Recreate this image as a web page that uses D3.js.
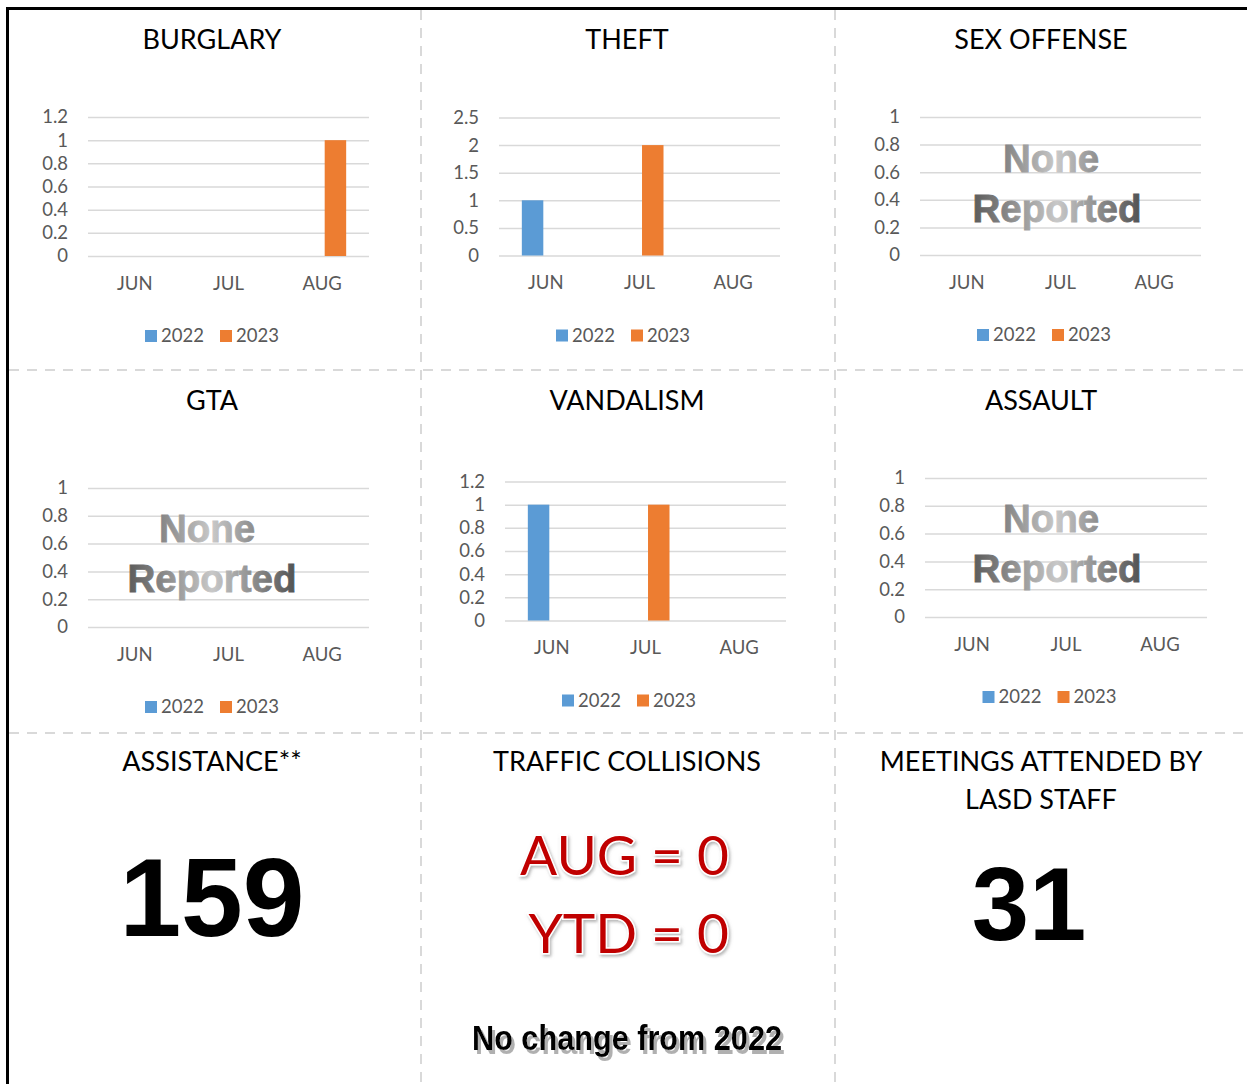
<!DOCTYPE html>
<html>
<head>
<meta charset="utf-8">
<script src="https://cdn.jsdelivr.net/npm/d3@7"></script>
<style>
  body { margin: 0; background: #fff; }
  svg { display: block; }
  .axis text { font-family: Lato, sans-serif; font-size: 18.5px; fill: #595959; }
  .legend text { font-family: Lato, sans-serif; font-size: 18.5px; fill: #595959; }
  .title { font-family: Lato, sans-serif; font-size: 27px; fill: #000; }
</style>
</head>
<body>
<div id="chart"></div>
<script>
// monthly counts, 2022 vs 2023
const months = ["JUN", "JUL", "AUG"];
const years = ["2022", "2023"];

const burglary2022 = [0, 0, 0];
const burglary2023 = [0, 0, 1];
const theft2022 = [1, 0, 0];
const theft2023 = [0, 2, 0];
const sexOffense2022 = [0, 0, 0];
const sexOffense2023 = [0, 0, 0];
const gta2022 = [0, 0, 0];
const gta2023 = [0, 0, 0];
const vandalism2022 = [1, 0, 0];
const vandalism2023 = [0, 1, 0];
const assault2022 = [0, 0, 0];
const assault2023 = [0, 0, 0];

const ticks12 = [0, 0.2, 0.4, 0.6, 0.8, 1, 1.2];
const ticks25 = [0, 0.5, 1, 1.5, 2, 2.5];
const ticks1 = [0, 0.2, 0.4, 0.6, 0.8, 1];

const assistanceCount = 159;
const meetingsCount = 31;
const collisionsMonth = 0;
const collisionsYtd = 0;

const colors = { "2022": "#5b9bd5", "2023": "#ed7d31" };

const width = 1247;
const height = 1084;

const svg = d3.select("#chart")
  .append("svg")
  .attr("width", width)
  .attr("height", height);

const defs = svg.append("defs");

const glow = defs.append("filter").attr("id", "redShadow")
  .attr("x", "-10%").attr("y", "-20%").attr("width", "130%").attr("height", "150%");
glow.append("feDropShadow")
  .attr("dx", 1.5).attr("dy", 2).attr("stdDeviation", 1.5)
  .attr("flood-color", "#777").attr("flood-opacity", 0.55);

const grayShadow = defs.append("filter").attr("id", "grayShadow")
  .attr("x", "-5%").attr("y", "-20%").attr("width", "115%").attr("height", "150%");
grayShadow.append("feDropShadow")
  .attr("dx", 3).attr("dy", 4).attr("stdDeviation", 0.4)
  .attr("flood-color", "#b0b0b0").attr("flood-opacity", 1);

// panel frame
svg.append("line")
  .attr("x1", 6).attr("x2", width).attr("y1", 8.5).attr("y2", 8.5)
  .attr("stroke", "#000").attr("stroke-width", 3);
svg.append("line")
  .attr("x1", 7.5).attr("x2", 7.5).attr("y1", 7).attr("y2", height)
  .attr("stroke", "#000").attr("stroke-width", 3);

[421, 835].forEach(x => {
  svg.append("line")
    .attr("x1", x).attr("x2", x).attr("y1", 10).attr("y2", height)
    .attr("stroke", "#d9d9d9").attr("stroke-width", 2).attr("stroke-dasharray", "10,8");
});
[370, 733].forEach(y => {
  svg.append("line")
    .attr("x1", 9).attr("x2", width).attr("y1", y).attr("y2", y)
    .attr("stroke", "#d9d9d9").attr("stroke-width", 2).attr("stroke-dasharray", "10,8");
});

const charts = [
  { title: "BURGLARY", a: burglary2022, b: burglary2023, ticks: ticks12, cx: 212, titleY: 49,
    left: 88, right: 369, top: 117, bottom: 256 },
  { title: "THEFT", a: theft2022, b: theft2023, ticks: ticks25, cx: 627, titleY: 49,
    left: 499, right: 780, top: 117.5, bottom: 255.5 },
  { title: "SEX OFFENSE", a: sexOffense2022, b: sexOffense2023, ticks: ticks1, cx: 1041, titleY: 49,
    left: 920, right: 1201, top: 117, bottom: 255,
    none: { x1: 1051, y1: 172, x2: 1057, y2: 222 } },
  { title: "GTA", a: gta2022, b: gta2023, ticks: ticks1, cx: 212, titleY: 410,
    left: 88, right: 369, top: 488, bottom: 627,
    none: { x1: 207, y1: 542, x2: 212, y2: 592 } },
  { title: "VANDALISM", a: vandalism2022, b: vandalism2023, ticks: ticks12, cx: 627, titleY: 410,
    left: 505, right: 786, top: 481.5, bottom: 620.5 },
  { title: "ASSAULT", a: assault2022, b: assault2023, ticks: ticks1, cx: 1041, titleY: 410,
    left: 925, right: 1207, top: 478, bottom: 617,
    none: { x1: 1051, y1: 532, x2: 1057, y2: 582 } }
];

function barChart(c, idx) {
  const g = svg.append("g");

  g.append("text")
    .attr("class", "title")
    .attr("x", c.cx)
    .attr("y", c.titleY)
    .attr("text-anchor", "middle")
    .text(c.title);

  const x0 = d3.scaleBand()
    .domain(months)
    .range([c.left, c.right])
    .paddingInner(0.4875)
    .paddingOuter(0.24375);

  const x1 = d3.scaleBand()
    .domain(years)
    .range([0, x0.bandwidth()])
    .paddingInner(0.19);

  const yScale = d3.scaleLinear()
    .domain([0, d3.max(c.ticks)])
    .range([c.bottom, c.top]);

  const yAxis = d3.axisLeft(yScale)
    .tickValues(c.ticks)
    .tickFormat(d => String(d))
    .tickSize(-(c.right - c.left))
    .tickPadding(20);

  const yg = g.append("g")
    .attr("class", "axis y-axis")
    .attr("transform", `translate(${c.left}, 0)`)
    .call(yAxis);
  yg.select(".domain").remove();
  yg.selectAll("line").attr("stroke", "#d9d9d9").attr("stroke-width", 1.5);

  const xAxis = d3.axisBottom(x0)
    .tickSize(0)
    .tickPadding(20.5);

  const xg = g.append("g")
    .attr("class", "axis x-axis")
    .attr("transform", `translate(0, ${c.bottom})`)
    .call(xAxis);
  xg.select(".domain").remove();

  const rows = months.map((m, i) => ({ month: m, values: [
    { year: "2022", value: c.a[i] },
    { year: "2023", value: c.b[i] }
  ] }));

  g.selectAll(".month")
    .data(rows)
    .enter().append("g")
    .attr("class", "month")
    .attr("transform", d => `translate(${x0(d.month)}, 0)`)
    .selectAll("rect")
    .data(d => d.values.filter(v => v.value > 0))
    .enter().append("rect")
    .attr("x", d => x1(d.year))
    .attr("y", d => yScale(d.value))
    .attr("width", x1.bandwidth())
    .attr("height", d => yScale(0) - yScale(d.value))
    .attr("fill", d => colors[d.year]);

  // legend
  const legendX = (c.left + c.right) / 2 - 83.5;
  const legend = g.append("g")
    .attr("class", "legend")
    .attr("transform", `translate(${legendX}, ${c.bottom + 80})`);

  const item = legend.selectAll(".item")
    .data(years)
    .enter().append("g")
    .attr("class", "item")
    .attr("transform", (d, i) => `translate(${i * 75}, 0)`);

  item.append("rect")
    .attr("x", 0).attr("y", -6)
    .attr("width", 12).attr("height", 12)
    .attr("fill", d => colors[d]);

  item.append("text")
    .attr("x", 16)
    .attr("y", 0)
    .attr("dy", "0.35em")
    .text(d => d);

  if (c.none) {
    const gradId = "noneGrad" + idx;
    const grad = defs.append("linearGradient")
      .attr("id", gradId)
      .attr("gradientUnits", "userSpaceOnUse")
      .attr("x1", c.none.x2 - 85).attr("x2", c.none.x2 + 85)
      .attr("y1", 0).attr("y2", 0);
    grad.append("stop").attr("offset", 0).attr("stop-color", "#5a5a5a");
    grad.append("stop").attr("offset", 0.5).attr("stop-color", "#c8c8c8");
    grad.append("stop").attr("offset", 1).attr("stop-color", "#505050");

    const note = g.append("g")
      .style("font-family", "'Liberation Sans', Arial, sans-serif")
      .style("font-weight", "bold")
      .style("font-size", "38.5px")
      .attr("fill", `url(#${gradId})`)
      .attr("stroke", `url(#${gradId})`)
      .attr("stroke-width", 0.8)
      .attr("text-anchor", "middle");
    note.append("text").attr("x", c.none.x1).attr("y", c.none.y1).text("None");
    note.append("text").attr("x", c.none.x2).attr("y", c.none.y2).text("Reported");
  }
}

charts.forEach(barChart);

// bottom row
const bottomTitles = [
  { text: "ASSISTANCE**", x: 212, y: 771 },
  { text: "TRAFFIC COLLISIONS", x: 627, y: 771 },
  { text: "MEETINGS ATTENDED BY", x: 1041, y: 771 },
  { text: "LASD STAFF", x: 1041, y: 809 }
];

svg.selectAll(".bottom-title")
  .data(bottomTitles)
  .enter().append("text")
  .attr("class", "title bottom-title")
  .attr("x", d => d.x)
  .attr("y", d => d.y)
  .attr("text-anchor", "middle")
  .text(d => d.text);

const bigNumbers = [
  { value: assistanceCount, x: 212, y: 936, size: 111 },
  { value: meetingsCount, x: 1029, y: 940, size: 103 }
];

svg.selectAll(".big-number")
  .data(bigNumbers)
  .enter().append("text")
  .attr("class", "big-number")
  .attr("x", d => d.x)
  .attr("y", d => d.y)
  .attr("text-anchor", "middle")
  .style("font-family", "'Liberation Sans', Arial, sans-serif")
  .style("font-weight", "bold")
  .style("font-size", d => d.size + "px")
  .attr("fill", "#000")
  .text(d => d.value);

const collisionLines = [
  { text: `AUG = ${collisionsMonth}`, y: 875 },
  { text: `YTD = ${collisionsYtd}`, y: 953 }
];

svg.selectAll(".collision")
  .data(collisionLines)
  .enter().append("text")
  .attr("class", "collision")
  .attr("x", 729)
  .attr("y", d => d.y)
  .attr("text-anchor", "end")
  .style("font-family", "Lato, sans-serif")
  .style("font-size", "55px")
  .attr("fill", "#c00000")
  .attr("stroke", "#fff")
  .attr("stroke-width", 3)
  .attr("paint-order", "stroke")
  .attr("filter", "url(#redShadow)")
  .text(d => d.text);

// "No change" caption, narrowed to the reference width, with offset shadow
svg.append("text")
  .attr("x", 472)
  .attr("y", 1050)
  .attr("textLength", 310)
  .attr("lengthAdjust", "spacingAndGlyphs")
  .style("font-family", "'Liberation Sans', Arial, sans-serif")
  .style("font-weight", "bold")
  .style("font-size", "35px")
  .attr("fill", "#000")
  .attr("filter", "url(#grayShadow)")
  .text("No change from 2022");
</script>
</body>
</html>
